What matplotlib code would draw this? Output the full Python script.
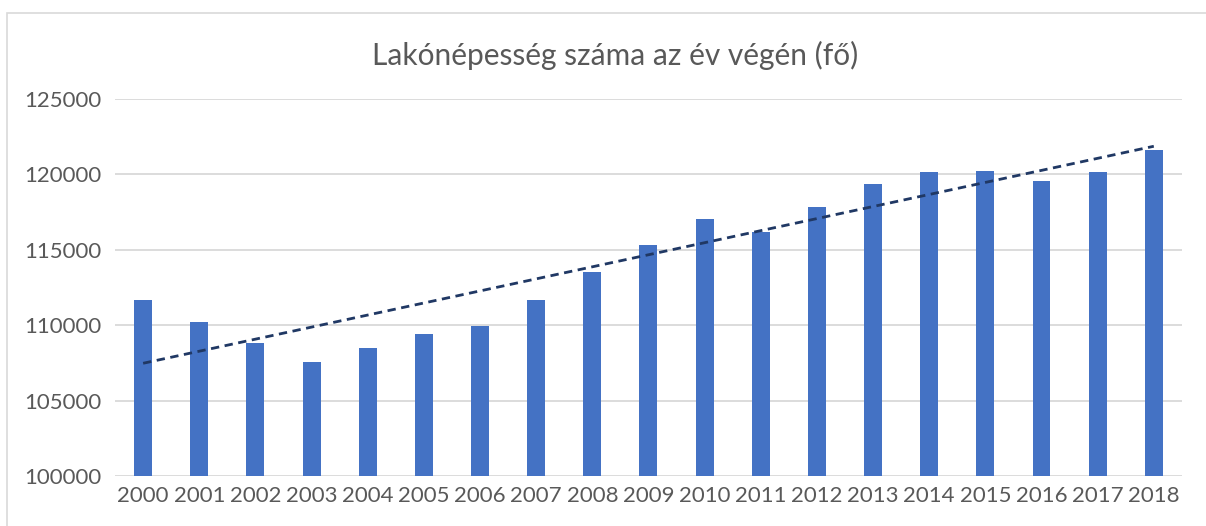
import numpy as np
import matplotlib
matplotlib.use('Agg')
import matplotlib.pyplot as plt
from matplotlib.patches import Rectangle

plt.rcParams['font.family'] = ['Lato', 'DejaVu Sans']

years = ['2000', '2001', '2002', '2003', '2004', '2005', '2006', '2007', '2008', '2009',
         '2010', '2011', '2012', '2013', '2014', '2015', '2016', '2017', '2018']
population = [111680, 110180, 108800, 107530, 108490, 109390, 109940, 111650, 113520, 115340,
              117050, 116180, 117840, 119340, 120190, 120240, 119560, 120170, 121640]

title = 'Lakónépesség száma az év végén (fő)'

fig = plt.figure(figsize=(12.06, 5.26), dpi=100)
ax = fig.add_axes([0.0954, 0.0951, 0.8846, 0.7167])

x = np.arange(len(years))
ax.bar(x, population, width=0.32, color='#4472C4', zorder=3)

# linear trendline, like Excel's
coef = np.polyfit(x, population, 1)
ax.plot(x, np.polyval(coef, x), color='#203864', lw=2.0, ls=(0, (3, 2)), zorder=4)

ax.set_xlim(-0.5, len(years) - 0.5)
ax.set_ylim(100000, 125000)
ax.set_yticks(range(100000, 125001, 5000))
ax.set_xticks(x)
ax.set_xticklabels(years)
ax.grid(axis='y', color='#D9D9D9', lw=1.3, zorder=0)
for s in ax.spines.values():
    s.set_visible(False)
ax.tick_params(length=0, labelsize=16, colors='#595959', pad=7)
ax.tick_params(axis='y', pad=10)

fig.text(0.51, 0.895, title, ha='center', va='center', fontsize=21.5,
         color='#595959')

# chart frame (extends past the bottom and right edges)
fig.patches.append(Rectangle((7 / 1206, -0.1), 1.2, 1.1 - 13 / 526,
                             transform=fig.transFigure, fill=False,
                             edgecolor='#D9D9D9', lw=1.2))

fig.savefig('out.png', dpi=100)
